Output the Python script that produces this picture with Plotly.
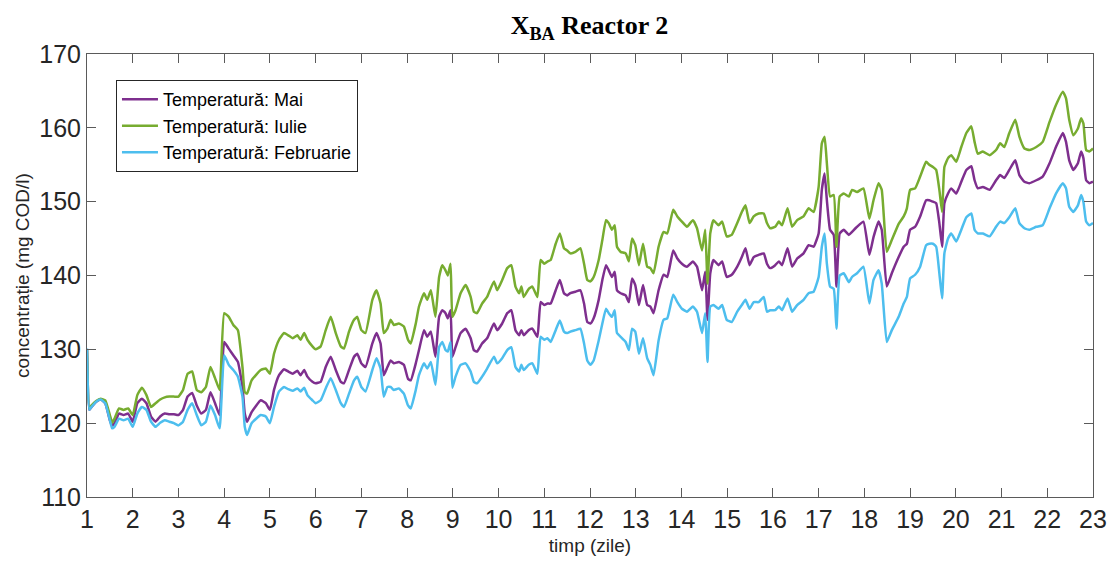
import plotly.graph_objects as go

# time (days)
days = [
    1.0, 1.05, 1.1, 1.2, 1.3, 1.4, 1.5, 1.55, 1.6, 1.7, 1.8, 1.9, 2.0, 2.1, 2.2, 2.3, 2.4, 2.5, 2.6, 2.7,
    2.8, 2.9, 3.0, 3.1, 3.2, 3.3, 3.4, 3.5, 3.6, 3.7, 3.8, 3.9, 4.0, 4.1, 4.2, 4.3, 4.4, 4.45, 4.5, 4.6,
    4.80, 4.91, 5.0, 5.09, 5.20, 5.31, 5.40, 5.50, 5.60, 5.67, 5.75, 5.82, 5.93, 6.0, 6.11, 6.22, 6.33, 6.44, 6.55, 6.62,
    6.73, 6.84, 6.91, 7.0, 7.09, 7.24, 7.33, 7.42, 7.49, 7.57, 7.64, 7.71, 7.82, 7.93, 8.02, 8.08, 8.19, 8.26,
    8.37, 8.44, 8.52, 8.62, 8.70, 8.77, 8.84, 8.89, 8.95, 8.99, 9.06, 9.17, 9.28, 9.39, 9.46, 9.53, 9.64, 9.75, 9.90, 9.97,
    10.08, 10.19, 10.28, 10.37, 10.45, 10.50, 10.55, 10.66, 10.74, 10.85, 10.92, 11.0, 11.07, 11.14, 11.25, 11.34, 11.43, 11.50, 11.57, 11.68,
    11.79, 11.87, 11.94, 12.01, 12.08,
    12.19, 12.27, 12.35, 12.41, 12.48, 12.54, 12.59, 12.67, 12.78, 12.85, 12.92, 12.99, 13.07, 13.16, 13.25, 13.32, 13.39, 13.50, 13.61, 13.69,
    13.82, 13.91, 14.01, 14.12, 14.25, 14.34, 14.45, 14.52, 14.57, 14.63, 14.70, 14.81, 14.89, 14.99, 15.10, 15.22, 15.32, 15.40, 15.49, 15.58,
    15.69,
    15.80, 15.87, 15.94, 16.05, 16.13, 16.20, 16.32, 16.42, 16.53, 16.67, 16.78, 16.89, 17.0, 17.07, 17.13, 17.18, 17.25, 17.33, 17.39, 17.46,
    17.55, 17.66, 17.73, 17.84, 17.98, 18.11, 18.2, 18.31, 18.38, 18.49, 18.60, 18.75, 18.86, 18.93, 19.0, 19.11, 19.22, 19.35,
    19.42, 19.50, 19.57, 19.64, 19.70, 19.75, 19.83, 19.90, 20.01, 20.12, 20.23, 20.34, 20.41, 20.48, 20.59, 20.74, 20.88, 20.97, 21.06, 21.17,
    21.30, 21.39, 21.50, 21.61, 21.76, 21.90, 22.05, 22.19, 22.34, 22.41, 22.48, 22.57, 22.67, 22.74, 22.79, 22.85, 22.92, 23.0,
]

x_ba_mai = [
    130.0, 121.8, 122.2, 122.9, 123.2, 122.7, 120.4, 119.7, 120.0, 121.3, 121.1, 121.3, 120.2, 122.7, 123.3, 122.7, 120.9, 120.2, 120.9, 121.3,
    121.2, 121.2, 121.1, 121.8, 123.6, 124.1, 122.4, 121.3, 121.8, 124.2, 122.7, 121.1, 131.0, 130.1, 129.2, 128.3, 124.9, 121.3, 120.2, 121.5,
    123.1, 122.7, 121.8, 124.5, 126.5, 127.3, 127.0, 126.7, 127.1, 126.5, 127.2, 126.3, 125.6, 125.4, 125.6, 127.6, 129.0, 127.2, 125.6, 125.4,
    127.2, 129.0, 129.4, 128.1, 127.6, 130.8, 132.2, 130.8, 126.5, 127.6, 128.5, 128.1, 128.3, 127.9, 126.0, 125.8, 128.1, 129.9,
    132.6, 131.7, 132.4, 129.0, 134.4, 135.3, 134.9, 134.2, 135.3, 129.0, 130.3, 132.2, 132.8, 131.5, 129.9, 129.7, 130.8, 131.5, 133.5, 132.6,
    133.5, 134.9, 135.3, 132.6, 131.9, 132.6, 131.9, 132.6, 132.8, 131.7, 136.4, 136.0, 136.2, 136.2, 138.0, 139.4, 137.6, 137.3, 137.6, 137.8,
    138.0, 136.2, 133.7, 133.5, 134.2,
    136.7, 139.4, 141.4, 140.7, 139.8, 140.5, 138.0, 137.6, 137.3, 136.4, 139.6, 138.7, 136.0, 138.7, 136.0, 135.8, 134.9, 138.0, 140.1, 139.8,
    143.4, 142.3, 141.6, 141.2, 141.9, 141.2, 138.0, 140.5, 134.0, 140.3, 142.1, 141.4, 141.9, 139.8, 140.1, 141.2, 142.5, 143.7, 141.4, 142.5,
    142.8,
    143.0, 141.6, 141.0, 141.4, 141.9, 141.4, 143.7, 141.2, 142.3, 143.0, 144.1, 143.9, 145.7, 151.6, 153.8, 150.2, 146.2, 145.5, 138.5, 145.7,
    146.2, 145.5, 145.9, 146.6, 147.3, 142.8, 145.2, 147.3, 146.2, 138.5, 140.3, 142.5, 143.9, 144.3, 146.2, 146.6, 148.0, 150.2,
    150.2, 150.0, 149.8, 147.1, 143.9, 149.8, 151.1, 151.8, 151.1, 152.7, 154.3, 154.8, 152.9, 151.8, 152.0, 151.6, 152.9, 153.6, 153.2, 154.3,
    155.6, 153.6, 152.7, 152.5, 152.9, 153.4, 155.2, 157.4, 159.3, 158.1, 155.6, 154.3, 155.2, 156.8, 155.9, 152.9, 152.5, 152.7,
]

x_ba_iulie = [
    130.0, 122.0, 122.4, 123.0, 123.3, 123.1, 121.1, 120.05, 120.6, 122.0, 121.8, 122.0, 121.1, 123.8, 124.8, 123.8, 122.2, 122.7, 123.2, 123.5,
    123.6, 123.6, 123.6, 124.5, 126.7, 127.0, 124.5, 124.2, 124.9, 127.6, 126.1, 124.5, 134.9, 134.4, 133.3, 132.6, 127.6, 124.2, 124.0, 125.8,
    127.2, 127.4, 126.7, 129.4, 131.3, 132.2, 131.9, 131.5, 131.9, 131.3, 132.2, 131.3, 130.4, 130.0, 130.4, 132.6, 134.4, 132.2, 130.4, 130.1,
    132.4, 134.0, 134.4, 132.6, 132.2, 136.7, 138.0, 136.2, 132.2, 132.8, 134.0, 133.3, 133.5, 133.1, 131.3, 130.8, 133.5, 135.8,
    137.6, 136.7, 138.0, 134.4, 139.8, 141.4, 140.7, 140.0, 141.6, 134.4, 135.3, 137.6, 138.7, 137.1, 135.1, 134.9, 136.2, 137.1, 139.2, 138.0,
    139.4, 141.0, 141.4, 138.5, 137.6, 138.5, 137.1, 138.2, 138.5, 137.1, 142.1, 141.6, 141.9, 142.1, 144.3, 145.7, 143.7, 143.4, 143.0, 143.2,
    143.7, 141.6, 139.4, 139.2, 139.8,
    142.1, 144.8, 147.5, 147.1, 146.2, 146.8, 143.9, 143.2, 143.0, 141.9, 145.0, 144.1, 141.4, 144.3, 141.2, 141.0, 140.3, 143.9, 145.9, 145.7,
    148.9, 148.0, 147.3, 146.6, 147.5, 146.4, 143.4, 146.2, 138.9, 145.7, 147.5, 146.8, 147.3, 145.3, 145.5, 147.1, 148.6, 149.5, 147.1, 148.0,
    148.4,
    148.4, 147.1, 146.4, 146.6, 147.3, 146.8, 149.1, 146.6, 147.5, 148.0, 149.1, 148.6, 152.0, 157.9, 158.8, 155.2, 150.7, 150.9, 143.9, 150.7,
    151.1, 150.7, 151.6, 151.3, 151.8, 147.7, 150.2, 152.5, 151.6, 143.2, 144.8, 147.0, 148.0, 149.1, 151.6, 151.8, 153.4, 155.4,
    155.0, 154.7, 154.3, 151.6, 148.6, 154.7, 155.9, 156.3, 155.4, 157.4, 159.3, 160.2, 158.1, 156.5, 156.8, 156.3, 157.0, 157.9, 157.4, 159.3,
    161.1, 158.8, 157.2, 157.0, 157.4, 158.1, 160.8, 163.1, 164.9, 164.0, 161.1, 159.0, 159.9, 161.3, 160.6, 157.0, 156.8, 157.2,
]

x_ba_februarie = [
    130.1, 121.8, 122.2, 122.9, 123.2, 122.7, 120.4, 119.3, 119.5, 120.6, 120.4, 120.6, 119.5, 121.3, 122.2, 121.8, 120.2, 119.5, 120.05, 120.4,
    120.2, 120.0, 119.7, 120.2, 121.8, 122.7, 121.1, 119.7, 120.2, 122.4, 121.1, 119.3, 129.2, 127.9, 127.2, 126.3, 123.6, 119.5, 118.4, 120.0,
    121.1, 120.9, 120.0, 122.2, 124.3, 124.9, 124.6, 124.4, 124.7, 124.3, 124.8, 123.8, 123.1, 122.7, 123.1, 124.7, 126.1, 124.5, 122.7, 122.2,
    124.0, 125.8, 126.3, 124.9, 124.3, 127.2, 128.8, 127.4, 123.6, 124.9, 124.9, 124.5, 124.7, 124.0, 122.4, 122.0, 124.5, 126.5,
    128.1, 127.4, 128.3, 125.2, 130.3, 131.0, 129.9, 129.7, 131.0, 124.8, 126.3, 127.9, 128.1, 127.0, 125.6, 125.4, 126.3, 127.4, 129.0, 128.1,
    128.8, 129.9, 130.3, 127.6, 127.0, 127.9, 127.2, 127.9, 128.1, 126.7, 131.7, 131.3, 131.5, 131.0, 132.6, 133.9, 132.4, 132.2, 132.4, 132.6,
    132.8, 130.8, 128.5, 127.9, 128.5,
    131.2, 133.5, 135.5, 134.9, 134.4, 135.3, 132.2, 131.7, 131.0, 129.9, 132.8, 132.4, 129.4, 131.5, 128.8, 127.9, 126.5, 131.2, 134.0, 134.2,
    137.4, 136.4, 135.5, 135.1, 135.8, 135.1, 132.2, 134.9, 128.3, 135.8, 136.0, 135.5, 136.0, 134.0, 133.7, 135.1, 136.0, 136.7, 135.5, 136.4,
    136.4,
    137.1, 135.1, 135.3, 135.3, 135.8, 135.3, 136.9, 135.1, 136.0, 136.7, 137.6, 137.8, 139.8, 143.9, 145.7, 141.6, 138.5, 138.2, 132.8, 140.0,
    140.3, 139.1, 139.8, 140.3, 141.2, 136.2, 139.4, 140.7, 138.9, 131.0, 132.6, 134.4, 136.2, 137.1, 139.6, 140.1, 141.2, 144.1,
    144.3, 144.3, 143.9, 140.3, 136.9, 143.0, 145.0, 145.7, 144.6, 146.2, 147.9, 148.4, 146.2, 145.7, 145.7, 145.3, 146.6, 147.3, 147.1, 147.9,
    149.1, 147.1, 146.4, 146.2, 146.6, 146.8, 149.1, 151.1, 152.5, 151.8, 149.3, 148.6, 149.5, 150.9, 150.0, 147.3, 146.8, 147.1,
]

x_ticks = list(range(1, 24))
y_ticks = [110, 120, 130, 140, 150, 160, 170]

series = [
    ("Temperatură: Mai", x_ba_mai, "#7E2F8E"),
    ("Temperatură: Iulie", x_ba_iulie, "#77AC30"),
    ("Temperatură: Februarie", x_ba_februarie, "#4DBEEE"),
]

fig = go.Figure()
for name, vals, color in series:
    n = min(len(days), len(vals))
    fig.add_trace(go.Scatter(x=days[:n], y=vals[:n], mode="lines", name=name,
                             line=dict(color=color, width=2.5, shape="spline", smoothing=0.4)))

axis_color = "#5a5a5a"
text_color = "#262626"
sans = "Liberation Sans, Arial, sans-serif"

fig.update_layout(
    width=1108, height=561,
    margin=dict(l=87, r=15, t=54, b=64, autoexpand=False),
    paper_bgcolor="white", plot_bgcolor="white",
    title=dict(text="X<sub>BA</sub> Reactor 2", x=0.532, xanchor="center", y=0.955, yanchor="middle",
               font=dict(family="Liberation Serif, Times New Roman, serif", size=26, color="black", weight="bold")),
    showlegend=True,
    legend=dict(x=0.0288, y=0.941, xanchor="left", yanchor="top",
                bgcolor="white", bordercolor=text_color, borderwidth=1,
                font=dict(family=sans, size=18, color="black"),
                tracegroupgap=0, itemwidth=36),
    xaxis=dict(range=[1, 23], tickvals=x_ticks, ticks="inside", ticklen=9, tickcolor=axis_color,
               showline=True, linecolor=axis_color, linewidth=1, mirror="ticks", showgrid=False, zeroline=False,
               automargin=False,
               tickfont=dict(family=sans, size=25, color=text_color),
               title=dict(text="timp (zile)", font=dict(family=sans, size=19, color=text_color), standoff=6)),
    yaxis=dict(range=[110, 170], tickvals=y_ticks, ticks="inside", ticklen=9, tickcolor=axis_color,
               showline=True, linecolor=axis_color, linewidth=1, mirror="ticks", showgrid=False, zeroline=False,
               automargin=False,
               tickfont=dict(family=sans, size=25, color=text_color),
               title=dict(text="concentrație (mg COD/l)", font=dict(family=sans, size=19, color=text_color), standoff=4)),
)

fig.write_html("out.html")
